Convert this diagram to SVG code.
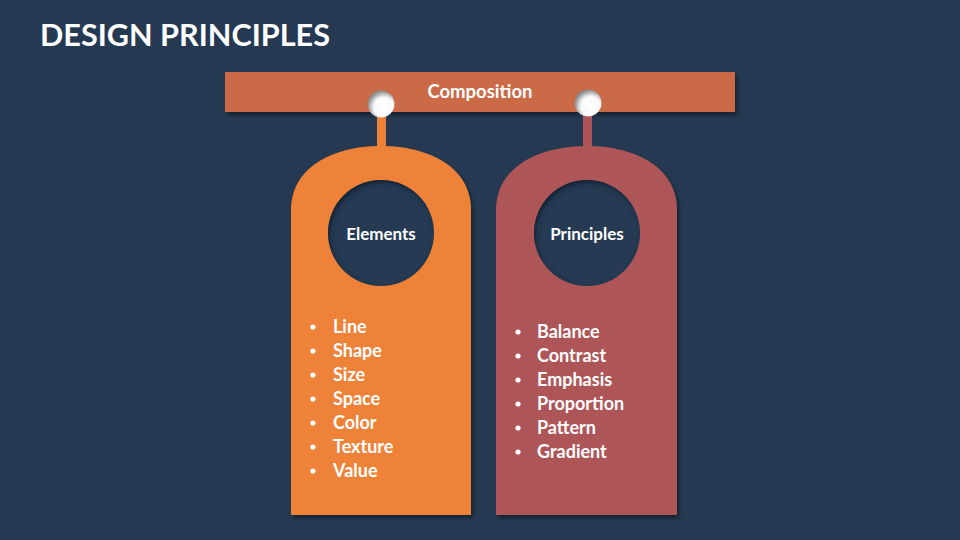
<svg xmlns="http://www.w3.org/2000/svg" width="960" height="540" viewBox="0 0 960 540">
<defs>
<filter id="sh" x="-10%" y="-10%" width="130%" height="130%">
<feDropShadow dx="2" dy="3" stdDeviation="2" flood-color="#000" flood-opacity="0.45"/>
</filter>
<filter id="inner" x="-20%" y="-20%" width="140%" height="140%">
<feOffset dx="2" dy="3" in="SourceAlpha" result="o"/>
<feGaussianBlur in="o" stdDeviation="2" result="b"/>
<feComposite in="SourceAlpha" in2="b" operator="out" result="ring"/>
<feFlood flood-color="#000" flood-opacity="0.6"/>
<feComposite in2="ring" operator="in" result="s"/>
<feMerge><feMergeNode in="SourceGraphic"/><feMergeNode in="s"/></feMerge>
</filter>
<radialGradient id="peg" cx="0.6" cy="0.62" r="0.6">
<stop offset="0" stop-color="#ffffff"/>
<stop offset="0.6" stop-color="#fafafa"/>
<stop offset="1" stop-color="#8c8c8c"/>
</radialGradient>
<style>
text{font-family:Lato,"Open Sans","Liberation Sans",sans-serif;fill:#fff;font-weight:bold}
.t{font-size:30px}
.h{font-size:17px;text-anchor:middle}
.b{font-size:18px}
.bar{fill:#CB6B47}
.hole{fill:#253A52}
.dot{fill:#fff}
</style>
</defs>
<rect width="960" height="540" fill="#253A52"/>
<text class="t" x="40" y="46" textLength="290" lengthAdjust="spacingAndGlyphs">DESIGN PRINCIPLES</text>

<g id="composition">
<rect class="bar" x="225" y="72" width="510" height="40" filter="url(#sh)"/>
<text x="480" y="98" style="font-size:18.5px;text-anchor:middle">Composition</text>
</g>

<g id="connectors">
<rect x="377" y="112" width="9" height="38" fill="#ED8237"/>
<rect x="583" y="112" width="9" height="38" fill="#AE5459"/>
<circle cx="381" cy="104" r="13.5" fill="url(#peg)"/>
<circle cx="588" cy="103" r="13.5" fill="url(#peg)"/>
</g>

<g id="elements">
<path d="M291,515 L291,210 C291,168 332,146 381,146 C430,146 471,168 471,210 L471,515 Z" fill="#ED8237" filter="url(#sh)"/>
<circle class="hole" cx="381" cy="233" r="53" filter="url(#inner)"/>
<text class="h" x="381" y="240">Elements</text>
<g>
<circle class="dot" cx="313" cy="327" r="2.6"/>
<circle class="dot" cx="313" cy="351" r="2.6"/>
<circle class="dot" cx="313" cy="375" r="2.6"/>
<circle class="dot" cx="313" cy="399" r="2.6"/>
<circle class="dot" cx="313" cy="423" r="2.6"/>
<circle class="dot" cx="313" cy="447" r="2.6"/>
<circle class="dot" cx="313" cy="471" r="2.6"/>
<text class="b" x="333" y="333">Line</text>
<text class="b" x="333" y="357">Shape</text>
<text class="b" x="333" y="381">Size</text>
<text class="b" x="333" y="405">Space</text>
<text class="b" x="333" y="429">Color</text>
<text class="b" x="333" y="453">Texture</text>
<text class="b" x="333" y="477">Value</text>
</g>
</g>

<g id="principles">
<path d="M496,515 L496,210 C496,168 537,146 587,146 C636,146 677,168 677,210 L677,515 Z" fill="#AE5459" filter="url(#sh)"/>
<circle class="hole" cx="587" cy="233" r="53" filter="url(#inner)"/>
<text class="h" x="587" y="240">Principles</text>
<g>
<circle class="dot" cx="518" cy="332" r="2.6"/>
<circle class="dot" cx="518" cy="356" r="2.6"/>
<circle class="dot" cx="518" cy="380" r="2.6"/>
<circle class="dot" cx="518" cy="404" r="2.6"/>
<circle class="dot" cx="518" cy="428" r="2.6"/>
<circle class="dot" cx="518" cy="452" r="2.6"/>
<text class="b" x="537" y="338">Balance</text>
<text class="b" x="537" y="362">Contrast</text>
<text class="b" x="537" y="386">Emphasis</text>
<text class="b" x="537" y="410">Proportion</text>
<text class="b" x="537" y="434">Pattern</text>
<text class="b" x="537" y="458">Gradient</text>
</g>
</g>
</svg>
